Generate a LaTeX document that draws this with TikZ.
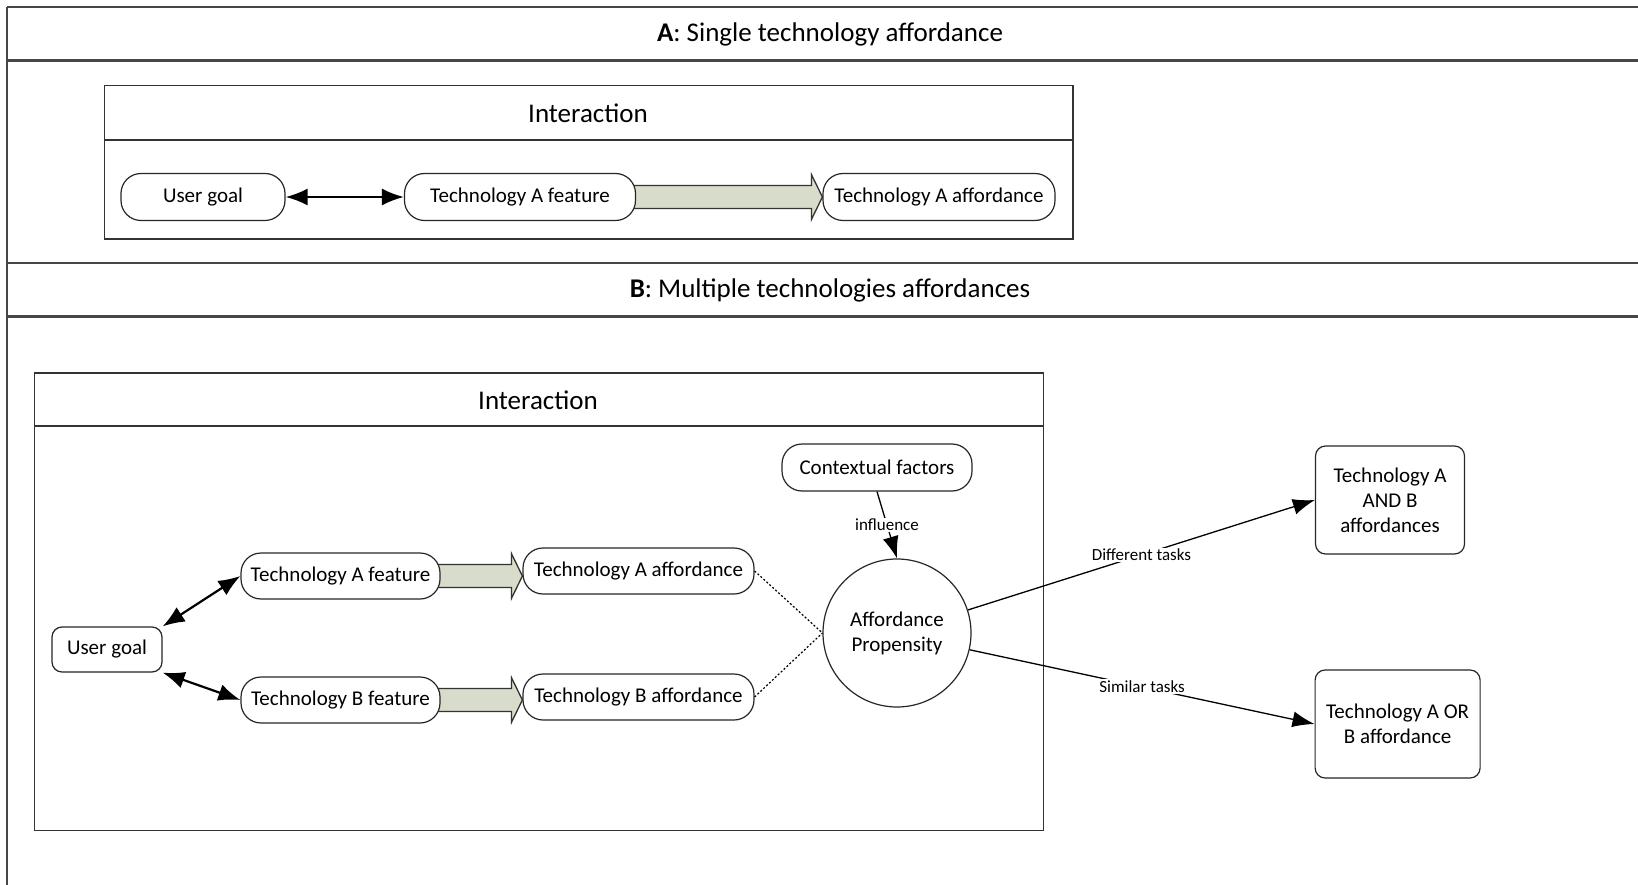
\documentclass[tikz,border=0pt]{standalone}
\usepackage{fontspec}
\setmainfont{Carlito}
\usetikzlibrary{arrows.meta,calc}
\pgfdeclarelayer{bg}
\pgfsetlayers{bg,main}

\definecolor{framegray}{RGB}{70,70,70}
\definecolor{shaftfill}{RGB}{216,220,202}

\tikzset{
  frameline/.style={draw=framegray, line width=2.2pt},
  boxline/.style={draw=black!80, line width=1.5pt},
  titletext/.style={font=\fontsize{27}{31}\selectfont},
  nd/.style={draw=black!85, line width=1.2pt, fill=white, rounded corners=20pt,
    minimum height=47pt, inner sep=0pt, align=center,
    font=\fontsize{21}{25}\selectfont},
  sqnd/.style={nd, rounded corners=10pt},
  dblarrow/.style={line width=2.2pt, {Latex[length=22pt,width=17pt]}-{Latex[length=22pt,width=17pt]}},
  blk/.style={draw=black!80, line width=1.3pt, fill=shaftfill, line join=miter},
  dotline/.style={line width=1.2pt, dash pattern=on 2pt off 2pt},
  conn/.style={line width=1.3pt, -{Latex[length=22pt,width=16pt]}},
  lbl/.style={fill=white, inner sep=1.5pt, font=\fontsize{17}{20}\selectfont}
}

\begin{document}
\begin{tikzpicture}[x=1pt,y=-1pt]
\useasboundingbox (0,0) rectangle (1638,885);

% outer frame with the two section headers
\draw[frameline] (7,7) -- (1638,7);
\draw[frameline] (7,60.5) -- (1638,60.5);
\draw[frameline] (7,263) -- (1638,263);
\draw[frameline] (7,316.5) -- (1638,316.5);
\draw[frameline] (7,7) -- (7,885);
\node[titletext] (titleA) at (830,34) {\textbf{A}: Single technology affordance};
\node[titletext] (titleB) at (830,290) {\textbf{B}: Multiple technologies affordances};

% section A: interaction box
\draw[boxline] (104.5,85.7) rectangle (1072.8,239.2);
\draw[boxline] (104.5,140) -- (1072.8,140);
\node[titletext] (intA) at (588,113) {Interaction};

\node[nd, minimum width=164pt] (ugA) at (203,197) {User goal};
\node[nd, minimum width=231pt] (tfA) at (520,197) {Technology A feature};
\node[nd, minimum width=232pt] (taA) at (939,197) {Technology A affordance};

\draw[dblarrow] (ugA.east) -- (tfA.west);

% section B: interaction box
\draw[boxline] (34.5,373) rectangle (1043.6,830.5);
\draw[boxline] (34.5,426.2) -- (1043.6,426.2);
\node[titletext] (intB) at (538,400) {Interaction};

\node[sqnd, minimum width=110pt, minimum height=45pt] (ugB) at (107,649.5) {User goal};
\node[nd, minimum width=199pt, minimum height=46pt] (tfB1) at (340.5,576) {Technology A feature};
\node[nd, minimum width=199pt, minimum height=46pt] (tfB2) at (340.5,700) {Technology B feature};
\node[nd, minimum width=231pt, minimum height=46pt] (taB1) at (638.5,571) {Technology A affordance};
\node[nd, minimum width=231pt, minimum height=46pt] (taB2) at (638.5,697) {Technology B affordance};
\node[nd, minimum width=190pt] (ctx) at (877,467.5) {Contextual factors};
\node[draw=black!85, line width=1.2pt, fill=white, circle, minimum size=148pt,
  inner sep=0pt, align=center, font=\fontsize{21}{25}\selectfont] (prop) at (897,633)
  {Affordance\\Propensity};
\node[sqnd, minimum width=149pt, minimum height=108pt] (andB) at (1390,500)
  {Technology A\\AND B\\affordances};
\node[sqnd, minimum width=165pt, minimum height=108pt] (orB) at (1397.6,724)
  {Technology A OR\\B affordance};

% wide block arrows from feature to affordance, kept level with the feature
\begin{pgfonlayer}{bg}
\foreach \a/\b in {tfA/taA, tfB1/taB1, tfB2/taB2}{
  \coordinate (tip) at (\b.west |- \a.east);
  \draw[blk] ($(\a.east)+(-12,-11.5)$) -- ($(tip)+(-11,-11.5)$)
    -- ($(tip)+(-11,-22.5)$) -- (tip) -- ($(tip)+(-11,22.5)$)
    -- ($(tip)+(-11,11.5)$) -- ($(\a.east)+(-12,11.5)$);
}
\end{pgfonlayer}

\draw[dblarrow] (ugB.north east) -- (tfB1.west);
\draw[dblarrow] (ugB.south east) -- (tfB2.west);

\draw[dotline] (taB1.east) -- (prop.west);
\draw[dotline] (taB2.east) -- (prop.west);

\draw[conn] (ctx.south) -- node[lbl] {influence} (prop.north);
\draw[conn] (prop.18) -- node[lbl] {Different tasks} (andB.west);
\draw[conn] (prop.-13) -- node[lbl] {Similar tasks} (orB.west);
\end{tikzpicture}
\end{document}
